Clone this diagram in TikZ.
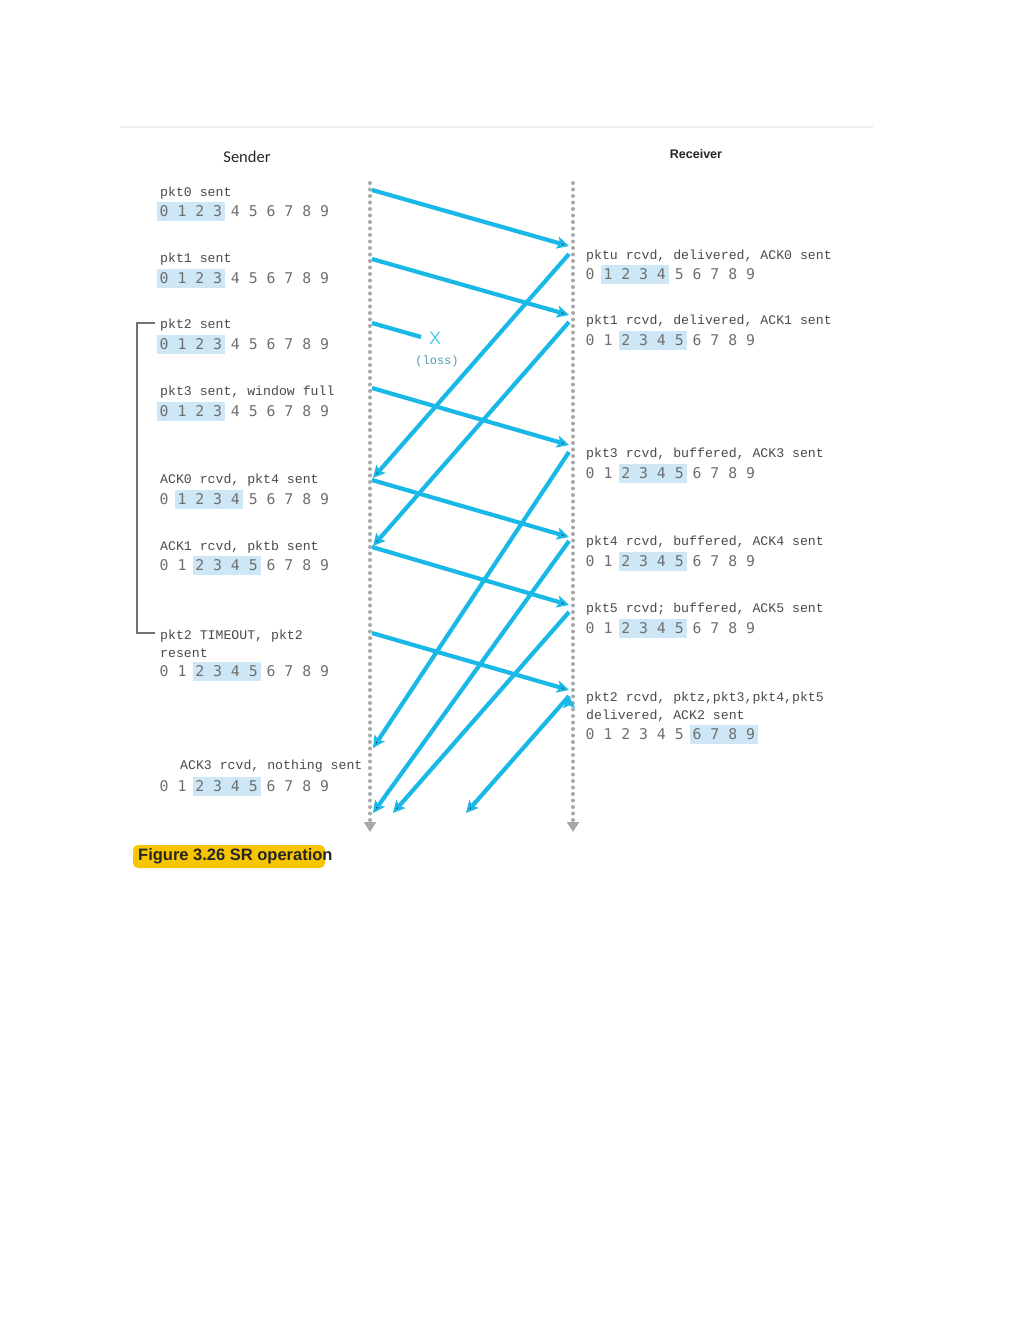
\documentclass[tikz,border=0pt]{standalone}
\usepackage{fontspec}
\setmainfont{Liberation Sans}
\newfontfamily\evfont{Liberation Mono}
\newfontfamily\digfont{DejaVu Sans Mono}
\newfontfamily\headfont{Carlito}
\usetikzlibrary{arrows.meta}

\definecolor{pktblue}{HTML}{1AB8E6}
\definecolor{winblue}{HTML}{CDE7F6}
\definecolor{lblgray}{HTML}{4A4A4A}
\definecolor{diggray}{HTML}{6E6E6E}
\definecolor{linegray}{HTML}{A8A8A8}
\definecolor{capyellow}{HTML}{F7C600}

\newcommand{\winrow}[5]{%
  \fill[winblue] ({#2+17.8*#4-2.5},{#3-9.5}) rectangle ({#2+17.8*#5+12.5},{#3+9.5});
  \node[window] (#1) at (#2,#3) {0 1 2 3 4 5 6 7 8 9};}

\begin{document}
\begin{tikzpicture}[x=1pt,y=-1pt]
  \tikzset{
    evtext/.style={anchor=west,inner sep=0pt,text=lblgray,align=left,font=\evfont\fontsize{13.2}{18}\selectfont},
    window/.style={anchor=west,inner sep=0pt,text=diggray,font=\digfont\fontsize{14.8}{18}\selectfont},
    pkt/.style={draw=pktblue,line width=4.2pt,-{Stealth[length=12pt,width=12pt,inset=2.5pt]}},
    timeline/.style={draw=linegray,line width=4pt,line cap=round,dash pattern=on 0pt off 6.5pt,-{Triangle[length=10pt,width=12pt]}}
  }
  \useasboundingbox (0,0) rectangle (1020,1320);

  \draw[line width=2pt,gray!15] (120,127) -- (873,127);
  \node[font=\headfont\fontsize{16.5}{18}\selectfont,text=black!85] (sender) at (247,157) {Sender};
  \node[font=\bfseries\fontsize{12.5}{14}\selectfont,text=black!85] (receiver) at (696,154) {Receiver};

  \coordinate (stop) at (370,183);  \coordinate (sbot) at (370,832);
  \coordinate (rtop) at (573,183);  \coordinate (rbot) at (573,832);
  \draw[timeline] (stop) -- (sbot);
  \draw[timeline] (rtop) -- (rbot);

  \node[evtext] (s0) at (160,193) {pkt0 sent};
  \winrow{sw0}{159.5}{211}{0}{3}
  \node[evtext] (s1) at (160,259) {pkt1 sent};
  \winrow{sw1}{159.5}{278}{0}{3}
  \node[evtext] (s2) at (160,325) {pkt2 sent};
  \winrow{sw2}{159.5}{344}{0}{3}
  \node[evtext] (s3) at (160,392) {pkt3 sent, window full};
  \winrow{sw3}{159.5}{411}{0}{3}
  \node[evtext] (s4) at (160,480) {ACK0 rcvd, pkt4 sent};
  \winrow{sw4}{159.5}{499}{1}{4}
  \node[evtext] (s5) at (160,547) {ACK1 rcvd, pktb sent};
  \winrow{sw5}{159.5}{565}{2}{5}
  \node[evtext] (s6) at (160,644) {pkt2 TIMEOUT, pkt2\\resent};
  \winrow{sw6}{159.5}{671}{2}{5}
  \node[evtext] (s7) at (180,766) {ACK3 rcvd, nothing sent};
  \winrow{sw7}{159.5}{786}{2}{5}

  \draw[line width=1.5pt,black!55] (155,323) -- (137,323) -- (137,633) -- (155,633);

  \node[evtext] (r0) at (586,256) {pktu rcvd, delivered, ACK0 sent};
  \winrow{rw0}{585.5}{274}{1}{4}
  \node[evtext] (r1) at (586,321) {pkt1 rcvd, delivered, ACK1 sent};
  \winrow{rw1}{585.5}{340}{2}{5}
  \node[evtext] (r3) at (586,454) {pkt3 rcvd, buffered, ACK3 sent};
  \winrow{rw3}{585.5}{473}{2}{5}
  \node[evtext] (r4) at (586,542) {pkt4 rcvd, buffered, ACK4 sent};
  \winrow{rw4}{585.5}{561}{2}{5}
  \node[evtext] (r5) at (586,609) {pkt5 rcvd; buffered, ACK5 sent};
  \winrow{rw5}{585.5}{628}{2}{5}
  \node[evtext] (r2) at (586,706.5) {pkt2 rcvd, pktz,pkt3,pkt4,pkt5\\delivered, ACK2 sent};
  \winrow{rw2}{585.5}{734}{6}{9}

  % data packets
  \coordinate (p0s) at (372,190);  \coordinate (p0r) at (569,246);
  \coordinate (p1s) at (372,259);  \coordinate (p1r) at (569,315);
  \coordinate (p2s) at (372,323);  \coordinate (p2x) at (421,337);
  \coordinate (p3s) at (372,388);  \coordinate (p3r) at (569,445);
  \coordinate (p4s) at (372,480);  \coordinate (p4r) at (569,537);
  \coordinate (p5s) at (372,547);  \coordinate (p5r) at (569,605);
  \coordinate (p6s) at (372,633);  \coordinate (p6r) at (569,690);
  % acks
  \coordinate (a0r) at (569,254);  \coordinate (a0s) at (373,478);
  \coordinate (a1r) at (569,322);  \coordinate (a1s) at (373,546);
  \coordinate (a3r) at (569,452);  \coordinate (a3s) at (373,748);
  \coordinate (a4r) at (569,541);  \coordinate (a4s) at (373,813);
  \coordinate (a5r) at (569,612);  \coordinate (a5s) at (393,813);
  \coordinate (a2r) at (569,696);  \coordinate (a2s) at (466,813);

  \draw[pkt] (p0s) edge (p0r)
             (p1s) edge (p1r)
             (p3s) edge (p3r)
             (p4s) edge (p4r)
             (p5s) edge (p5r)
             (p6s) edge (p6r)
             (a0r) edge (a0s)
             (a1r) edge (a1s)
             (a3r) edge (a3s)
             (a4r) edge (a4s)
             (a5r) edge (a5s)
             (a2r) edge (a2s);
  \draw[pktblue,line width=4.2pt] (p2s) -- (p2x);

  \node[text=pktblue!75,font=\fontsize{18}{20}\selectfont] (lossx) at (435,338) {X};
  \node[text=pktblue!50!gray,font=\evfont\fontsize{12}{14}\selectfont] (loss) at (437,361) {(loss)};

  \fill[capyellow,rounded corners=5pt] (133,845) rectangle (325,868);
  \node[anchor=west,inner sep=0pt,text=black!85,font=\bfseries\fontsize{16.5}{18}\selectfont] (caption) at (138,856) {Figure 3.26 SR operation};
\end{tikzpicture}
\end{document}
